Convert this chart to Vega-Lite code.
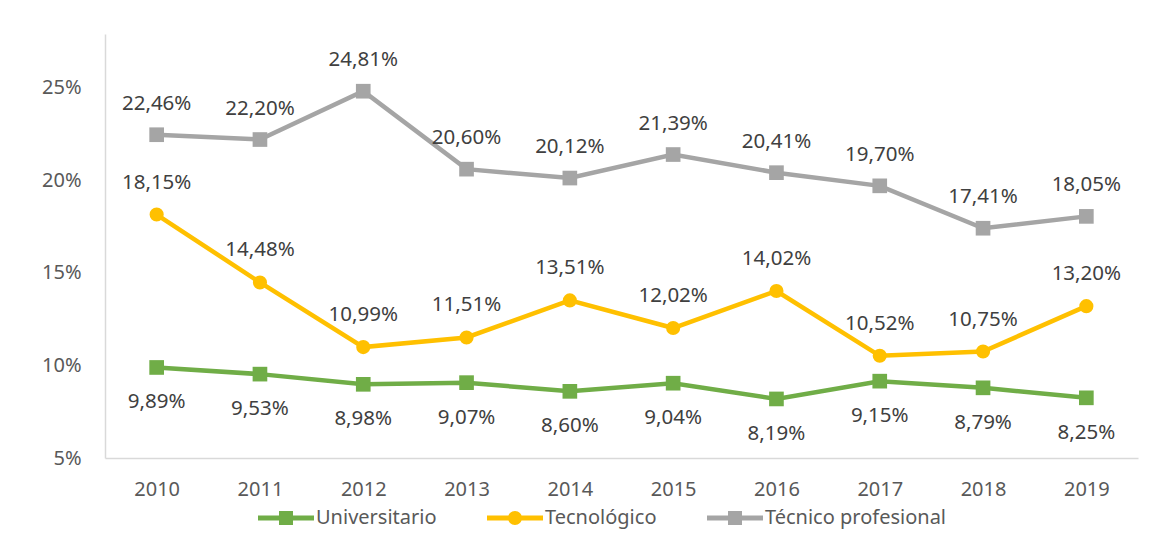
{
  "$schema": "https://vega.github.io/schema/vega-lite/v6.json",
  "width": 1033,
  "height": 424,
  "autosize": {"type": "none"},
  "padding": {"left": 105, "top": 34, "right": 26, "bottom": 79},
  "background": "white",
  "config": {
    "view": {"stroke": null},
    "font": "Noto Sans",
    "locale": {"number": {"decimal": ",", "thousands": ".", "grouping": [3], "currency": ["", " €"]}}
  },
  "data": {
    "values": [
      {"year": "2010", "series": "Universitario", "value": 0.0989},
      {"year": "2011", "series": "Universitario", "value": 0.0953},
      {"year": "2012", "series": "Universitario", "value": 0.0898},
      {"year": "2013", "series": "Universitario", "value": 0.0907},
      {"year": "2014", "series": "Universitario", "value": 0.0860},
      {"year": "2015", "series": "Universitario", "value": 0.0904},
      {"year": "2016", "series": "Universitario", "value": 0.0819},
      {"year": "2017", "series": "Universitario", "value": 0.0915},
      {"year": "2018", "series": "Universitario", "value": 0.0879},
      {"year": "2019", "series": "Universitario", "value": 0.0825},
      {"year": "2010", "series": "Tecnológico", "value": 0.1815},
      {"year": "2011", "series": "Tecnológico", "value": 0.1448},
      {"year": "2012", "series": "Tecnológico", "value": 0.1099},
      {"year": "2013", "series": "Tecnológico", "value": 0.1151},
      {"year": "2014", "series": "Tecnológico", "value": 0.1351},
      {"year": "2015", "series": "Tecnológico", "value": 0.1202},
      {"year": "2016", "series": "Tecnológico", "value": 0.1402},
      {"year": "2017", "series": "Tecnológico", "value": 0.1052},
      {"year": "2018", "series": "Tecnológico", "value": 0.1075},
      {"year": "2019", "series": "Tecnológico", "value": 0.1320},
      {"year": "2010", "series": "Técnico profesional", "value": 0.2246},
      {"year": "2011", "series": "Técnico profesional", "value": 0.2220},
      {"year": "2012", "series": "Técnico profesional", "value": 0.2481},
      {"year": "2013", "series": "Técnico profesional", "value": 0.2060},
      {"year": "2014", "series": "Técnico profesional", "value": 0.2012},
      {"year": "2015", "series": "Técnico profesional", "value": 0.2139},
      {"year": "2016", "series": "Técnico profesional", "value": 0.2041},
      {"year": "2017", "series": "Técnico profesional", "value": 0.1970},
      {"year": "2018", "series": "Técnico profesional", "value": 0.1741},
      {"year": "2019", "series": "Técnico profesional", "value": 0.1805}
    ]
  },
  "encoding": {
    "x": {
      "field": "year", "type": "ordinal",
      "scale": {"type": "point", "padding": 0.5},
      "axis": {"labelAngle": 0, "ticks": false, "grid": false, "domainColor": "#D9D9D9", "domainWidth": 1.5, "labelColor": "#595959", "labelFontSize": 20, "labelPadding": 21, "title": null}
    },
    "y": {
      "field": "value", "type": "quantitative",
      "scale": {"domain": [0.05, 0.279], "nice": false, "zero": false},
      "axis": {"values": [0.05, 0.1, 0.15, 0.2, 0.25], "format": ".0%", "ticks": false, "grid": false, "domainColor": "#D9D9D9", "domainWidth": 1.5, "labelColor": "#595959", "labelFontSize": 20, "labelPadding": 24, "title": null}
    },
    "color": {
      "field": "series", "type": "nominal",
      "scale": {"domain": ["Universitario", "Tecnológico", "Técnico profesional"], "range": ["#70AD47", "#FFC000", "#A5A5A5"]},
      "legend": {
        "orient": "none", "legendX": 153, "legendY": 456, "direction": "horizontal", "title": null,
        "labelFontSize": 20, "labelColor": "#595959", "labelLimit": 0, "symbolSize": 3136, "columnPadding": 50, "labelOffset": 2,
        "encode": {
          "symbols": {
            "update": {
              "shape": {"signal": "datum.value === 'Tecnológico' ? 'M-1,-0.09H1V0.09H-1Z M-0.25,0A0.25,0.25 0 1,1 0.25,0A0.25,0.25 0 1,1 -0.25,0Z' : 'M-1,-0.09H1V0.09H-1Z M-0.25,-0.25H0.25V0.25H-0.25Z'"},
              "fill": {"signal": "scale('color', datum.value)"},
              "fillOpacity": {"value": 1},
              "strokeWidth": {"value": 0}
            }
          }
        }
      }
    }
  },
  "layer": [
    {
      "mark": {"type": "line", "strokeWidth": 4.5}
    },
    {
      "transform": [{"filter": "datum.series !== 'Tecnológico'"}],
      "mark": {"type": "point", "shape": "square", "filled": true, "opacity": 1, "size": 215}
    },
    {
      "transform": [{"filter": "datum.series === 'Tecnológico'"}],
      "mark": {"type": "point", "shape": "circle", "filled": true, "opacity": 1, "size": 200}
    },
    {
      "transform": [{"filter": "datum.series === 'Técnico profesional'"}],
      "mark": {"type": "text", "dy": -31, "fontSize": 20.5, "color": "#404040", "baseline": "middle"},
      "encoding": {"text": {"field": "value", "type": "quantitative", "format": ".2%"}, "color": {"value": "#404040"}}
    },
    {
      "transform": [{"filter": "datum.series === 'Tecnológico'"}],
      "mark": {"type": "text", "dy": -32, "fontSize": 20.5, "color": "#404040", "baseline": "middle"},
      "encoding": {"text": {"field": "value", "type": "quantitative", "format": ".2%"}, "color": {"value": "#404040"}}
    },
    {
      "transform": [{"filter": "datum.series === 'Universitario'"}],
      "mark": {"type": "text", "dy": 35, "fontSize": 20.5, "color": "#404040", "baseline": "middle"},
      "encoding": {"text": {"field": "value", "type": "quantitative", "format": ".2%"}, "color": {"value": "#404040"}}
    }
  ]
}
